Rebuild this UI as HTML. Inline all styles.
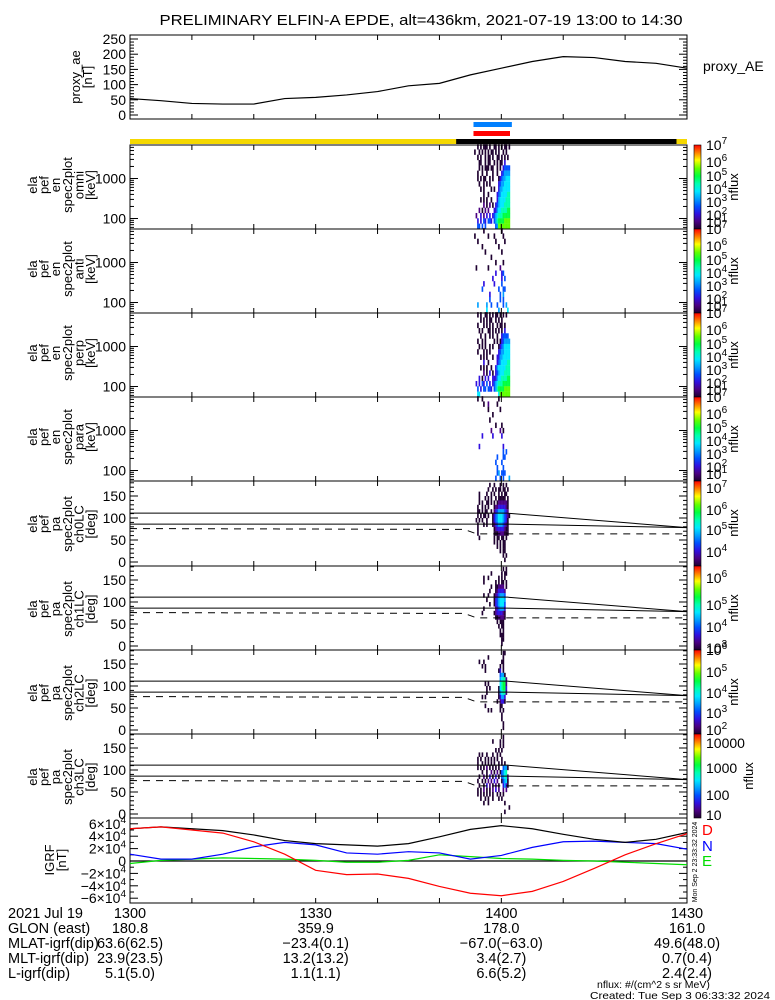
<!DOCTYPE html>
<html><head><meta charset="utf-8"><style>
html,body{margin:0;padding:0;background:#fff;}
svg{display:block;font-family:"Liberation Sans",sans-serif;}
</style></head><body>
<svg id="chart" width="775" height="1000" viewBox="0 0 775 1000" xmlns="http://www.w3.org/2000/svg">
<defs>
<linearGradient id="cmap" x1="0" y1="1" x2="0" y2="0">
<stop offset="0" stop-color="#1e0030"/><stop offset="0.09" stop-color="#4b0082"/><stop offset="0.18" stop-color="#3010e0"/><stop offset="0.27" stop-color="#0050ff"/><stop offset="0.36" stop-color="#00a0ff"/><stop offset="0.45" stop-color="#00e8ff"/><stop offset="0.54" stop-color="#00ffb0"/><stop offset="0.63" stop-color="#00ff40"/><stop offset="0.72" stop-color="#60ff00"/><stop offset="0.82" stop-color="#ffff00"/><stop offset="0.9" stop-color="#ff8c00"/><stop offset="1" stop-color="#ff0000"/>
</linearGradient>
</defs>
<rect x="0" y="0" width="775" height="1000" fill="#fff"/>
<g id="root"></g>
</svg>
<script>
// ---------- data ----------
const aeTimes = [0,5,10,15,20,25,30,35,40,45,50,55,60,65,70,75,80,85,90];
const aeValues = [54,47,38,36,36,54,58,66,77,96,104,132,154,176,192,189,176,170,154];
const aeTicks = [0,50,100,150,200,250];

const igrfTimes = [0,5,10,15,20,25,30,35,40,45,50,55,60,65,70,75,80,85,90];
const igrfTotal = [5.2,5.5,5.2,4.9,4.2,3.3,2.8,2.6,2.4,2.8,3.9,5.1,5.7,5.2,4.3,3.5,3.0,3.5,4.6];
const igrfD = [5.2,5.5,5.0,4.5,3.1,1.1,-1.5,-2.2,-2.1,-2.8,-4.1,-5.2,-5.6,-4.9,-3.3,-1.2,1.0,2.8,4.4];
const igrfN = [1.1,0.3,0.3,1.1,2.3,3.0,2.6,1.3,1.1,1.5,1.3,0.3,0.9,2.2,3.1,3.2,3.0,2.8,1.9];
const igrfE = [-0.4,0.1,0.3,0.5,0.4,0.3,0.1,-0.2,-0.2,0.1,1.0,0.7,0.4,0.3,0.1,0,-0.2,-0.4,-0.6];
const igrfTicks = [-6,-4,-2,0,2,4,6];

const energyTicks = [100,1000];
const energyBinsKeV = [64,87,118,160,217,294,399,542,735,997,1353,1836,2490,3380,4585,6220];
const pitchTicks = [0,50,100,150];
const pitchBinsDeg = [175,165,155,145,135,125,115,105,95,85,75,65,55,45,35,25,15,5];
const specStartMin = 55.6;
const specBinMin = 0.242;

const blueBar = [55.5,61.7];
const redBar = [55.5,61.4];
const nightBar = [52.7,88.3];

const lcUpperT = [0,61,90], lcUpperDeg = [111,111,78];
const lcLowerT = [0,61,90], lcLowerDeg = [86,86,78];
const lcDashT = [0,54,56,90], lcDashDeg = [76,74,64,64];

const specOmni = [
"..1.1.111.1..11.1.1.11.1",
"1..1.1.1.1.11.1.1..1.1..",
"..1.1..1.11.1..11.1.1.1.",
"...11..1.11..1.1.11.3...",
"...1.1.111.11..1.1.34444",
"..1..1..1...1..1..345555",
"..1.1.11..1.1...13455666",
"...1..1.1.1.....34556666",
"....1.1....1.1..35566666",
"......1..1.....345666677",
"....1.1.1..1...356666777",
"......2.1.2.1.3456667777",
"...2.1.2.2...33566777788",
".2..3.2.3.3.345677788888",
"..3.3.43.443.45788889999",
"..44.4.4......4599999999"];
const specAnti = [
"......1...........1.....",
"1........1...1.....1....",
"..1...........1.....1...",
".....1..........1.......",
".......1..........1.....",
"...........1............",
"..............1....1....",
".1.......1.......2......",
"..............3...34....",
"............3.....3.4...",
"......3......3....4.....",
".....4..........4..44...",
"..........3......4.5....",
"..........4......4.4....",
"..5.....5..4...4...4.5..",
"........6.......5.....6."];
const specPerp = [
"..1.1..11.1.1.11.1.1.1..",
"....1.1.1.11..1.1.1.....",
"..1...1.1.1.1..1.11.1...",
"...1.1...11.1.1.1.1.3...",
"....1..1..1.1..1..34444.",
"..1..1.1.....1.1.1345555",
"...1.1.1..1.1...13456666",
"..1...1.1.1.....34556666",
"....1.1.1...1..335566666",
"......3..1.....345666677",
"....1.1.1..1..3566666777",
"......2.1.3.1.3456667777",
"...3.1.3.3..333566777788",
".3.3.43.4.3.345677788888",
"..4.3.44.443.45788889999",
"..66............69999999"];
const specPara = [
"..1..1..........1.......",
"......1..2.....1........",
".........1.......1......",
"............1...........",
"..........1.............",
"..............1...1.....",
"...........2.....2.1....",
".....3......3.....3.....",
"........................",
"...3...............3....",
"...................4.4..",
"...............4...44...",
"..............4...4.....",
"...............4...4....",
"...............45.444...",
"..............4..4.4...5"];
const pitchCh0 = [
"..........1..1...1.1.1..",
".........1..1.1.11.11.1.",
"...1....1..1.1..1.1.11..",
"...1...1.1.1..1.11111.1.",
"...1.1..11.1.1.12222221.",
"..1..1.1.1...1223333321.",
"..11.1.11..1.2345555432.",
"..1.1.11.1..134566654321",
".1.1.1..1...13456665431.",
"..1...1.1...12345554321.",
"..1..........1233333211.",
"..1..........1112222111.",
"...1.........1.11.11.1..",
".............1.1.1.11...",
"...............1.1.11...",
".................1.11...",
"...................1.1..",
"....................1..."];
const pitchCh1 = [
"...................1.1..",
"...........1......1.11..",
"......1..1......1.1.1...",
"......1.......1.1.11.1..",
"...........1..112222.1..",
"..........1...1233332...",
"......1..1...12345554...",
"........1....13456665...",
"..........1..13456664...",
"......1.......2345553...",
".....1.......12333321...",
"..............1122221...",
"...............1.111....",
"................1.11....",
".................1.1....",
".................111....",
"..................11....",
"..................1....."];
const pitchCh2 = [
"...................11...",
".........1.........1....",
"...1..1...........11....",
".....1.1.........1.1....",
".......1........13.1....",
".................4551...",
".................56772..",
".......1.1.......67882..",
"........1.1.....167883..",
"........1.......156772..",
".....1.1........13553...",
"...............1.2331...",
".......1.........11.....",
".........1.1.....1.1....",
"..................1.....",
"..................1.....",
"...................1....",
"...................1...."];
const pitchCh3 = [
"...................1....",
"............1....1.1....",
".................1.1....",
"..............1.1.1.....",
"...1.1..1...1..1.1......",
"..1.1..1.1.1.1.1..1.....",
"..1..1.1.1.1.1..1.1.1...",
"..1.1.1.2.1.1.1.1..4551.",
".....1..1..2.1.2.14567..",
"...1..2.1.3.1.3.1.45672.",
"..1..1.1.2.2.3.2..14561.",
"...1..1.3.2.1.2.1..3531.",
"..1.1.2.1.1.2.3.2..2.2..",
"..1.1.1.1.1.1..1.1.1....",
"....1..1.1..1...1.1.....",
"......1..1..........1...",
".......................1",
"....................1..."];

// ---------- layout ----------
const X0 = 130, X1 = 687;
function xT(t){ return X0 + t*(X1-X0)/90; }
const root = document.getElementById('root');
const NS = 'http://www.w3.org/2000/svg';
function mk(tag, attrs, parent){
  const el = document.createElementNS(NS, tag);
  for (const k in attrs) el.setAttribute(k, attrs[k]);
  (parent||root).appendChild(el);
  return el;
}
const stops = [[0,[30,0,48]],[0.09,[75,0,130]],[0.18,[48,16,224]],[0.27,[0,80,255]],[0.36,[0,160,255]],[0.45,[0,232,255]],[0.54,[0,255,176]],[0.63,[0,255,64]],[0.72,[96,255,0]],[0.82,[255,255,0]],[0.9,[255,140,0]],[1,[255,0,0]]];
function cmap(f){
  f=Math.max(0,Math.min(1,f));
  for(let i=1;i<stops.length;i++){
    if(f<=stops[i][0]){
      const a=stops[i-1],b=stops[i],u=(f-a[0])/(b[0]-a[0]);
      const c=a[1].map((v,j)=>Math.round(v+(b[1][j]-v)*u));
      return 'rgb('+c.join(',')+')';
    }
  }
  return 'rgb(255,0,0)';
}
function txt(x,y,s,opts){
  const el = mk('text', Object.assign({x:x,y:y,'font-size':14,fill:'#000'},opts||{}));
  el.textContent = s;
  return el;
}
function powText(x,y,base,exp,anchor){
  const el = mk('text',{x:x,y:y,'font-size':14,fill:'#000','text-anchor':anchor||'start'});
  el.appendChild(document.createTextNode(base));
  const sp = document.createElementNS(NS,'tspan');
  sp.setAttribute('dy','-6'); sp.setAttribute('font-size','10');
  sp.textContent = exp;
  el.appendChild(sp);
  return el;
}
function rotLabel(lines, x0, dx, cy, name){
  const g = mk('g',{});
  
  
  lines.forEach((s,i)=>{
    const x = x0 + dx*i;
    const t = mk('text',{x:x,y:cy,'font-size':13,fill:'#000','text-anchor':'middle',transform:'rotate(-90 '+x+' '+cy+')'},g);
    t.textContent = s;
  });
  return g;
}
function timeTicks(top,bot){
  for(let t=0;t<=90;t+=10){
    const x=xT(t);
    mk('line',{x1:x,y1:top,x2:x,y2:top+5,stroke:'#000','stroke-width':1});
    mk('line',{x1:x,y1:bot,x2:x,y2:bot-5,stroke:'#000','stroke-width':1});
  }
}
function yTick(y,len){
  mk('line',{x1:X0,y1:y,x2:X0+len,y2:y,stroke:'#000','stroke-width':1});
  mk('line',{x1:X1,y1:y,x2:X1-len,y2:y,stroke:'#000','stroke-width':1});
}
function frame(top,bot,name){
  const r = mk('rect',{x:X0,y:top,width:X1-X0,height:bot-top,fill:'none',stroke:'#000','stroke-width':1});
  
  
  timeTicks(top,bot);
}

// ---------- title ----------
const title = txt(421,25,'PRELIMINARY ELFIN-A EPDE, alt=436km, 2021-07-19 13:00 to 14:30',{'text-anchor':'middle','font-size':15,textLength:523,lengthAdjust:'spacingAndGlyphs'});



// ---------- proxy AE ----------
const aeTop=35, aeBot=119;
function yAE(v){ return 115 - v*0.304; }
frame(aeTop,aeBot,'proxy-ae-panel');
for(let v=0;v<=250;v+=10){ yTick(yAE(v), v%50===0?8:4); }
aeTicks.forEach(v=>{
  const t=txt(126,yAE(v)+5,String(v),{'text-anchor':'end'});
  
  
});
const aeLine = mk('polyline',{points:aeTimes.map((t,i)=>xT(t)+','+yAE(aeValues[i])).join(' '),fill:'none',stroke:'#000','stroke-width':1.2});


rotLabel(['proxy_ae','[nT]'],80,12,77,'proxy-ae-axis-title');
const aeLeg = txt(703,71,'proxy_AE',{'font-size':14});



// ---------- bars ----------
const bb = mk('rect',{x:xT(blueBar[0]),y:122,width:xT(blueBar[1])-xT(blueBar[0]),height:5,fill:'#0080ff'});


const rb = mk('rect',{x:xT(redBar[0]),y:131,width:xT(redBar[1])-xT(redBar[0]),height:5,fill:'#ff0000'});


const yb = mk('rect',{x:X0,y:139,width:X1-X0,height:5,fill:'#f5d800'});


const nb = mk('rect',{x:xT(nightBar[0]),y:139,width:xT(nightBar[1])-xT(nightBar[0]),height:5,fill:'#000'});



// ---------- colorbars ----------
function colorbar(top,bot,labels,name,nfluxX){
  const cb = mk('rect',{x:694,y:top,width:7,height:bot-top,fill:'url(#cmap)',stroke:'#000','stroke-width':0.6});
  
  
  labels.forEach(l=>{
    let el;
    if(l[2]) el = powText(706,top+l[0]+5,'10',l[1]);
    else el = txt(706,top+l[0]+5,l[1]);
    
    
  });
  const nx = nfluxX||738, cy=top+42;
  const nf = mk('text',{x:nx,y:cy,'font-size':13,fill:'#000','text-anchor':'middle',transform:'rotate(-90 '+nx+' '+cy+')'});
  nf.textContent='nflux';
  
  
}
const specLabels = [[0,'7',1],[17,'6',1],[31,'5',1],[44,'4',1],[57,'3',1],[70,'2',1],[77,'1',1]];

// ---------- spectrogram panels ----------
const specTops=[145,229,313,397];
const specData=[specOmni,specAnti,specPerp,specPara];
const specNames=['omni','anti','perp','para'];
function drawCells(matrix,top,rowY,rowH,name){
  matrix.forEach((row,r)=>{
    for(let c=0;c<24;c++){
      const ch=row[c];
      if(!ch||ch==='.') continue;
      const d=parseInt(ch,10);
      const t=specStartMin+c*specBinMin;
      const x=xT(t), w=xT(t+specBinMin)-x;
      const y=rowY(r), h=rowH;
      const cell=mk('rect',{x:x.toFixed(2),y:y.toFixed(2),width:(w+0.15).toFixed(2),height:(h+0.15).toFixed(2),fill:cmap((d-1)*0.09)});
      
      
    }
  });
}
specTops.forEach((T,p)=>{
  const B=T+84;
  function yE(e){ return T+73.5-(Math.log10(e)-2)*40; }
  const dl=0.1325;
  drawCells(specData[p],T,(r)=>{const e=energyBinsKeV[15-r];return yE(e*Math.pow(10,dl/2));},dl*40,'spectrogram-cell-'+specNames[p]);
  frame(T,B,'spectrogram-panel-'+specNames[p]);
  for(let dec=1;dec<=4;dec++){
    for(let m=1;m<=9;m++){
      const e=m*Math.pow(10,dec), y=yE(e);
      if(y<T+1||y>B-1) continue;
      yTick(y, m===1?8:4);
    }
  }
  energyTicks.forEach(e=>{
    const t=txt(126,yE(e)+5,String(e),{'text-anchor':'end'});
    
    
  });
  rotLabel(['ela','pef','en','spec2plot',specNames[p],'[keV]'],37,11.6,T+40,'spectrogram-axis-title-'+specNames[p]);
  colorbar(T,B,specLabels,'colorbar-'+specNames[p]);
});

// ---------- pitch angle panels ----------
const pitchTops=[481,566,650,734,818];
const pitchData=[pitchCh0,pitchCh1,pitchCh2,pitchCh3];
const pitchNames=['ch0LC','ch1LC','ch2LC','ch3LC'];
const pitchCb=[
  [[7,'7',1],[29,'6',1],[49,'5',1],[71,'4',1]],
  [[12,'6',1],[39,'5',1],[61,'4',1],[82,'3',1]],
  [[0,'6',1],[22,'5',1],[43,'4',1],[63,'3',1],[80,'2',1]],
  [[9,'10000',0],[34,'1000',0],[61,'100',0],[81,'10',0]]];
for(let p=0;p<4;p++){
  const T=pitchTops[p], B=pitchTops[p+1];
  function yD(d){ return B-4-d*0.44; }
  drawCells(pitchData[p],T,(r)=>yD(pitchBinsDeg[r]+5),4.4,'pitch-cell-'+pitchNames[p]);
  frame(T,B,'pitch-panel-'+pitchNames[p]);
  for(let d=0;d<=180;d+=10){ yTick(yD(d), d%50===0?8:4); }
  pitchTicks.forEach(d=>{
    const t=txt(126,yD(d)+5,String(d),{'text-anchor':'end'});
    
    
  });
  const up=mk('polyline',{points:lcUpperT.map((t,i)=>xT(t)+','+yD(lcUpperDeg[i])).join(' '),fill:'none',stroke:'#000','stroke-width':1});
  
  
  const lo=mk('polyline',{points:lcLowerT.map((t,i)=>xT(t)+','+yD(lcLowerDeg[i])).join(' '),fill:'none',stroke:'#000','stroke-width':1});
  
  
  const da=mk('polyline',{points:lcDashT.map((t,i)=>xT(t)+','+yD(lcDashDeg[i])).join(' '),fill:'none',stroke:'#000','stroke-width':1,'stroke-dasharray':'7,6'});
  
  
  rotLabel(['ela','pef','pa','spec2plot',pitchNames[p],'[deg]'],37,11.6,T+43,'pitch-axis-title-'+pitchNames[p]);
  colorbar(T,B,pitchCb[p],'colorbar-'+pitchNames[p],p===3?753:738);
}

// ---------- IGRF ----------
const gTop=818, gBot=903;
function yG(v){ return 861 - v*6.2; }
frame(gTop,gBot,'igrf-panel');
for(let v=-6;v<=6;v+=1){ yTick(yG(v), v%2===0?8:4); }
igrfTicks.forEach(v=>{
  let el;
  if(v===0) el=txt(126,yG(v)+5,'0',{'text-anchor':'end'});
  else el=powText(126,yG(v)+5,(v<0?'\u2212':'')+Math.abs(v)+'\u00d710','4','end');
  
  
});
const zl=mk('line',{x1:X0,y1:yG(0),x2:X1,y2:yG(0),stroke:'#000','stroke-width':1.3});


[[igrfE,'#00dd00','igrf-e-line'],[igrfN,'#0000ff','igrf-n-line'],[igrfTotal,'#000','igrf-total-line'],[igrfD,'#ff0000','igrf-d-line']].forEach(s=>{
  const pl=mk('polyline',{points:igrfTimes.map((t,i)=>xT(t)+','+yG(s[0][i])).join(' '),fill:'none',stroke:s[1],'stroke-width':1.2});
  
  
});
rotLabel(['IGRF','[nT]'],54,12,860,'igrf-axis-title');
[['D','#ff0000',835],['N','#0000ff',851],['E','#00dd00',866]].forEach(l=>{
  const t=txt(702,l[2],l[0],{fill:l[1],'font-size':15});
  
  
});
const stamp=mk('text',{x:697,y:862,'font-size':7,fill:'#000','text-anchor':'middle',transform:'rotate(-90 697 862)'});
stamp.textContent='Mon Sep  2 23:33:32 2024';



// ---------- footer ----------
const footRows = [
 ['2021 Jul 19','1300','1330','1400','1430'],
 ['GLON (east)','180.8','359.9','178.0','161.0'],
 ['MLAT-igrf(dip)','63.6(62.5)','\u221223.4(0.1)','\u221267.0(\u221263.0)','49.6(48.0)'],
 ['MLT-igrf(dip)','23.9(23.5)','13.2(13.2)','3.4(2.7)','0.7(0.4)'],
 ['L-igrf(dip)','5.1(5.0)','1.1(1.1)','6.6(5.2)','2.4(2.4)']];
const footTimes=[0,30,60,90];
footRows.forEach((row,r)=>{
  const y=918+r*15;
  const lab=txt(8,y,row[0],{'font-size':14.5});
  
  
  footTimes.forEach((t,c)=>{
    const v=txt(xT(t),y,row[c+1],{'font-size':14.5,'text-anchor':'middle'});
    
    
  });
});
const n1=txt(597,988,'nflux: #/(cm^2 s sr MeV)',{'font-size':10.5});


const n2=txt(590,999,'Created: Tue Sep  3 06:33:32 2024',{'font-size':10.5,textLength:180,lengthAdjust:'spacingAndGlyphs'});


</script>
</body></html>
